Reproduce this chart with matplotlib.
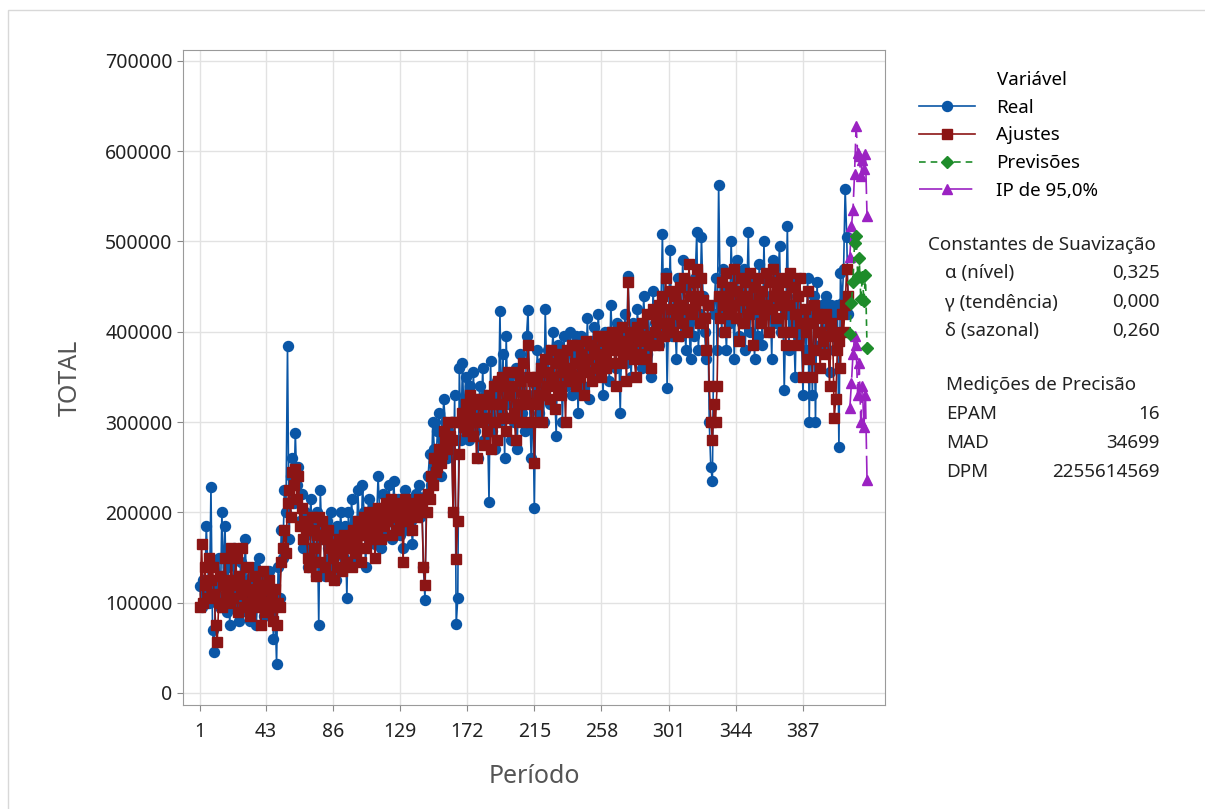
import numpy as np
import matplotlib
matplotlib.use("Agg")
import matplotlib.pyplot as plt
from matplotlib.patches import Rectangle

plt.rcParams['font.family'] = ['Noto Sans', 'DejaVu Sans']

# observed series (thousands)
real = [
    118, 95, 125, 110, 185, 140, 100, 228, 70, 45, 120, 100, 150, 95, 200, 130, 185, 90, 140, 75,
    120, 110, 160, 95, 130, 80, 145, 115, 105, 170, 90, 125, 80, 130, 100, 140, 75, 110, 150, 95,
    130, 85, 120, 100, 135, 90, 110, 60, 95, 32, 140, 105, 180, 150, 225, 200, 384, 170, 240, 260,
    210, 288, 230, 250, 190, 220, 160, 200, 175, 140, 190, 215, 150, 185, 130, 200, 75, 225, 170, 180,
    130, 190, 160, 150, 200, 140, 175, 125, 185, 160, 200, 170, 150, 185, 105, 200, 165, 215, 175, 190,
    150, 225, 185, 160, 230, 200, 140, 190, 215, 180, 175, 205, 165, 190, 240, 200, 160, 220, 185, 210,
    175, 230, 195, 170, 235, 200, 185, 215, 175, 205, 160, 225, 200, 180, 215, 190, 165, 205, 220, 200,
    230, 195, 215, 140, 103, 220, 240, 265, 230, 300, 270, 255, 290, 310, 240, 280, 325, 300, 260, 290,
    270, 300, 200, 330, 76, 105, 360, 280, 365, 300, 350, 320, 280, 340, 300, 355, 290, 325, 260, 340,
    310, 360, 280, 330, 300, 212, 368, 290, 330, 270, 345, 300, 423, 310, 375, 260, 395, 320, 350, 280,
    330, 300, 360, 270, 340, 375, 310, 350, 290, 395, 424, 320, 260, 330, 205, 340, 380, 310, 365, 330,
    300, 425, 350, 380, 320, 370, 400, 340, 285, 385, 350, 370, 300, 395, 340, 380, 360, 400, 330, 375,
    350, 395, 310, 370, 395, 340, 380, 360, 415, 325, 390, 370, 405, 350, 385, 420, 360, 390, 330, 400,
    370, 400, 345, 430, 385, 395, 360, 410, 385, 310, 400, 375, 420, 365, 462, 390, 350, 410, 395, 375,
    425, 385, 400, 360, 440, 400, 375, 420, 390, 350, 445, 410, 395, 430, 385, 420, 508, 400, 465, 338,
    420, 490, 395, 440, 410, 370, 460, 430, 395, 480, 420, 380, 450, 410, 370, 440, 395, 460, 510, 380,
    420, 505, 440, 400, 370, 430, 300, 250, 235, 420, 460, 380, 563, 440, 400, 470, 420, 380, 450, 410,
    500, 440, 370, 460, 480, 395, 430, 410, 470, 380, 440, 510, 400, 460, 420, 370, 440, 395, 475, 430,
    385, 500, 420, 460, 400, 440, 370, 480, 430, 410, 460, 495, 400, 440, 335, 420, 517, 380, 460, 430,
    410, 350, 440, 395, 460, 400, 330, 420, 380, 460, 300, 420, 330, 440, 300, 455, 400, 385, 430, 420,
    380, 440, 400, 355, 430, 420, 380, 400, 430, 272, 465, 432, 470, 558, 505, 420,
]

# fitted values (thousands)
fits = [
    95, 165, 100, 140, 120, 105, 150, 125, 140, 110, 75, 57, 100, 130, 95, 120, 150, 110, 125, 100,
    160, 105, 120, 150, 90, 130, 110, 160, 95, 120, 100, 140, 85, 115, 105, 130, 95, 120, 110, 75,
    135, 100, 115, 90, 125, 95, 105, 80, 115, 75, 100, 95, 145, 160, 180, 155, 210, 225, 195, 245,
    230, 248, 215, 240, 185, 205, 170, 190, 180, 150, 140, 180, 195, 160, 130, 175, 195, 145, 190, 175,
    140, 170, 180, 130, 160, 150, 125, 165, 140, 170, 155, 135, 175, 160, 145, 170, 160, 140, 180, 165,
    155, 190, 175, 145, 185, 195, 160, 175, 200, 170, 185, 195, 150, 180, 205, 190, 170, 200, 185, 210,
    190, 200, 215, 175, 205, 195, 180, 210, 190, 200, 145, 215, 195, 190, 205, 200, 180, 210, 195, 205,
    215, 200, 205, 140, 120, 200, 220, 215, 240, 230, 260, 245, 250, 270, 255, 265, 290, 280, 270, 300,
    285, 280, 200, 300, 148, 190, 265, 300, 310, 295, 320, 290, 310, 330, 300, 285, 320, 260, 305, 325,
    300, 320, 275, 305, 290, 330, 270, 320, 340, 300, 280, 345, 320, 350, 305, 340, 290, 355, 330, 305,
    340, 310, 280, 355, 320, 345, 300, 365, 330, 320, 385, 350, 300, 345, 255, 320, 350, 330, 360, 300,
    330, 370, 340, 355, 325, 380, 350, 315, 365, 340, 375, 330, 370, 355, 300, 380, 360, 345, 385, 350,
    365, 340, 385, 350, 375, 360, 330, 390, 370, 355, 385, 345, 380, 375, 360, 395, 370, 350, 390, 375,
    360, 395, 380, 365, 400, 385, 340, 395, 380, 365, 405, 375, 390, 345, 455, 400, 380, 395, 370, 350,
    405, 390, 375, 410, 395, 370, 420, 395, 385, 360, 425, 400, 415, 385, 430, 410, 440, 395, 460, 400,
    410, 445, 425, 400, 440, 420, 395, 450, 430, 410, 460, 425, 400, 475, 440, 420, 455, 430, 470, 440,
    410, 460, 435, 415, 380, 430, 340, 300, 280, 320, 300, 340, 440, 415, 455, 430, 400, 465, 440, 420,
    450, 430, 470, 415, 445, 390, 460, 435, 410, 455, 440, 420, 465, 430, 385, 450, 425, 460, 435, 410,
    445, 420, 465, 430, 400, 455, 425, 470, 440, 415, 450, 430, 460, 400, 440, 385, 455, 430, 465, 400,
    450, 420, 385, 440, 460, 410, 350, 425, 400, 445, 370, 410, 350, 430, 380, 420, 400, 360, 415, 390,
    375, 420, 395, 340, 410, 400, 305, 325, 380, 390, 360, 420, 400, 430, 470, 440,
]

# forecasts and 95% prediction interval (thousands)
forecast = [398, 432, 455, 498, 506, 462, 482, 436, 461, 434, 463, 382]
upper = [483, 517, 535, 575, 628, 598, 595, 572, 590, 580, 597, 528]
lower = [316, 343, 375, 395, 385, 330, 365, 300, 340, 295, 330, 236]

xticks = [1, 43, 86, 129, 172, 215, 258, 301, 344, 387]

real = np.array(real) * 1000
fits = np.array(fits) * 1000
forecast = np.array(forecast) * 1000
upper = np.array(upper) * 1000
lower = np.array(lower) * 1000

t_real = np.arange(1, len(real) + 1)
t_fit = np.arange(1, len(fits) + 1)
t_fc = np.arange(len(real) + 1, len(real) + 1 + len(forecast))

BLUE = '#0A56A6'
RED = '#8C1515'
GREEN = '#1E8C2A'
PURPLE = '#9B22C2'

fig = plt.figure(figsize=(12.05, 8.09), dpi=100)
ax = fig.add_axes([183 / 1205, 1 - 705 / 809, (885 - 183) / 1205, (705 - 50) / 809])

l_real, = ax.plot(t_real, real, color=BLUE, lw=1.2, marker='o', ms=7.2, zorder=3)
l_fit, = ax.plot(t_fit, fits, color=RED, lw=1.2, marker='s', ms=7.0, zorder=4)
l_up, = ax.plot(t_fc, upper, color=PURPLE, lw=1.2, marker='^', ms=7.5, dashes=(14, 4), zorder=5)
ax.plot(t_fc, lower, color=PURPLE, lw=1.2, marker='^', ms=7.5, dashes=(14, 4), zorder=5)
l_fc, = ax.plot(t_fc, forecast, color=GREEN, lw=1.2, marker='D', ms=6.5, dashes=(4, 3), zorder=6)

ax.set_xlim(-9.9, 439.5)
ax.set_ylim(-13300, 712000)
ax.set_xticks(xticks)
ax.set_yticks(np.arange(0, 700001, 100000))
ax.tick_params(labelsize=14, colors='#222222', length=4, color='#888888')
ax.tick_params(axis='x', pad=8)
ax.grid(True, color='#E2E2E2', lw=1)
ax.set_axisbelow(True)
for s in ax.spines.values():
    s.set_color('#9A9A9A')

ax.set_xlabel('Período', fontsize=18, color='#555555', labelpad=16)
ax.set_ylabel('TOTAL', fontsize=18, color='#555555', labelpad=16)

leg = fig.legend([l_real, l_fit, l_fc, l_up], ['Real', 'Ajustes', 'Previsões', 'IP de 95,0%'],
                 loc='upper left', bbox_to_anchor=(902 / 1205, 1 - 54 / 809), frameon=False,
                 title='Variável', fontsize=13.5, title_fontsize=13.5, handlelength=3.0,
                 handletextpad=1.1, labelspacing=0.52)
leg._legend_box.align = 'left'
leg.get_title().set_position((78, 0))

txt_kw = dict(fontsize=13.5, color='#222222', va='center')
fig.text(928 / 1205, 1 - 245 / 809, 'Constantes de Suavização', **txt_kw)
rows1 = [('α (nível)', '0,325'), ('γ (tendência)', '0,000'), ('δ (sazonal)', '0,260')]
for i, (a, b) in enumerate(rows1):
    y = 1 - (273 + i * 29) / 809
    fig.text(945 / 1205, y, a, **txt_kw)
    fig.text(1160 / 1205, y, b, ha='right', **txt_kw)
fig.text(946 / 1205, 1 - 385 / 809, 'Medições de Precisão', **txt_kw)
rows2 = [('EPAM', '16'), ('MAD', '34699'), ('DPM', '2255614569')]
for i, (a, b) in enumerate(rows2):
    y = 1 - (414 + i * 29) / 809
    fig.text(946 / 1205, y, a, **txt_kw)
    fig.text(1160 / 1205, y, b, ha='right', **txt_kw)

fig.add_artist(Rectangle((8 / 1205, -0.05), 1.2, (799 / 809) + 0.05, transform=fig.transFigure,
                         fill=False, edgecolor='#D8D8D8', lw=1))

fig.savefig('out.png', dpi=100)
